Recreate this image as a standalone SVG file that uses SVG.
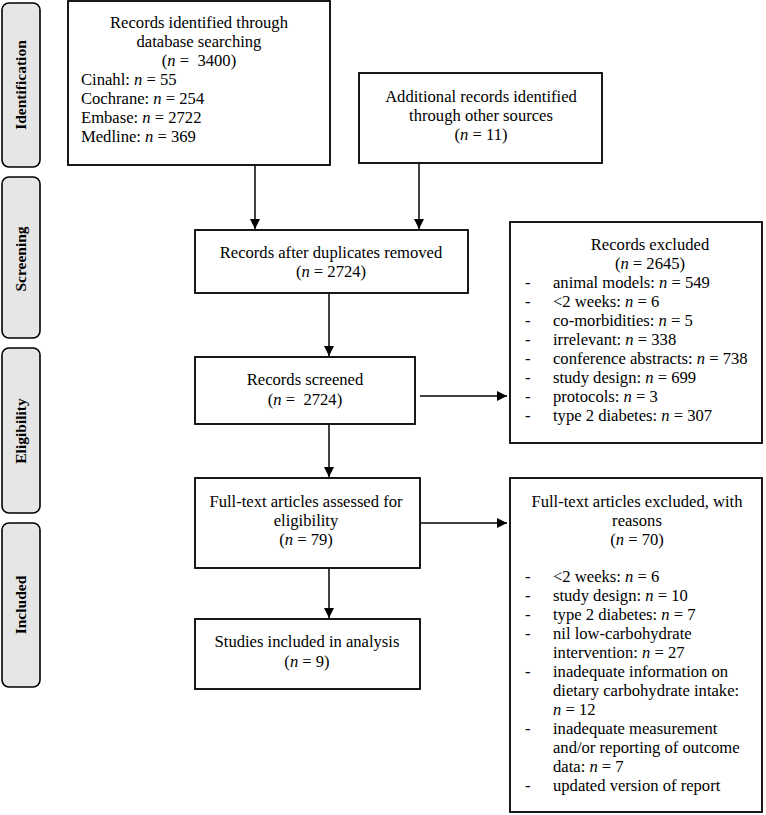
<svg xmlns="http://www.w3.org/2000/svg" width="766" height="815" viewBox="0 0 766 815">
<style>
  .box { fill: #ffffff; stroke: #000000; stroke-width: 1.8; }
  .side { fill: #e6e6e6; stroke: #000000; stroke-width: 1.6; }
  .t { font-family: "Liberation Serif", "Times New Roman", serif; font-size: 16.6px; fill: #000000; }
  .c { text-anchor: middle; }
  .lab { font-family: "Liberation Serif", "Times New Roman", serif; font-size: 15.5px; font-weight: bold; fill: #000000; text-anchor: middle; }
  .i { font-style: italic; }
  .conn { stroke: #000000; stroke-width: 1.5; fill: none; marker-end: url(#ah); }
</style>
<defs>
  <marker id="ah" viewBox="0 0 10 10" refX="10" refY="5" markerWidth="10" markerHeight="10" markerUnits="userSpaceOnUse" orient="auto">
    <path d="M0,0 L10,5 L0,10 Z" fill="#000000"/>
  </marker>
</defs>
<rect width="766" height="815" fill="#ffffff"/>

<g id="stage-identification">
  <rect class="side" x="2" y="3" width="38" height="164" rx="7"/>
  <text class="lab" transform="translate(26,85) rotate(-90)">Identification</text>
</g>
<g id="stage-screening">
  <rect class="side" x="2" y="177" width="38" height="161" rx="7"/>
  <text class="lab" transform="translate(26,259) rotate(-90)">Screening</text>
</g>
<g id="stage-eligibility">
  <rect class="side" x="2" y="348" width="38" height="165" rx="7"/>
  <text class="lab" transform="translate(26,431) rotate(-90)">Eligibility</text>
</g>
<g id="stage-included">
  <rect class="side" x="2" y="523" width="38" height="164" rx="7"/>
  <text class="lab" transform="translate(26,605) rotate(-90)">Included</text>
</g>

<g id="node-database">
  <rect class="box" x="68" y="1" width="262" height="164"/>
  <text class="t c" x="199" y="28">Records identified through</text>
  <text class="t c" x="199" y="47">database searching</text>
  <text class="t c" x="199" y="66">(<tspan class="i">n</tspan> =&#160; 3400)</text>
  <text class="t" x="81" y="85">Cinahl: <tspan class="i">n</tspan> = 55</text>
  <text class="t" x="81" y="104">Cochrane: <tspan class="i">n</tspan> = 254</text>
  <text class="t" x="81" y="123">Embase: <tspan class="i">n</tspan> = 2722</text>
  <text class="t" x="81" y="142">Medline: <tspan class="i">n</tspan> = 369</text>
</g>

<g id="node-other">
  <rect class="box" x="359" y="73" width="243" height="90"/>
  <text class="t c" x="481" y="102">Additional records identified</text>
  <text class="t c" x="481" y="121">through other sources</text>
  <text class="t c" x="481" y="140">(<tspan class="i">n</tspan> = 11)</text>
</g>

<g id="node-duplicates">
  <rect class="box" x="195" y="230" width="273" height="63"/>
  <text class="t c" x="331" y="258">Records after duplicates removed</text>
  <text class="t c" x="331" y="277">(<tspan class="i">n</tspan> = 2724)</text>
</g>

<g id="node-screened">
  <rect class="box" x="195" y="357" width="220" height="67"/>
  <text class="t c" x="305" y="385">Records screened</text>
  <text class="t c" x="305" y="405">(<tspan class="i">n</tspan> =&#160; 2724)</text>
</g>

<g id="node-records-excluded">
  <rect class="box" x="510" y="222" width="252" height="221"/>
  <text class="t c" x="650" y="250">Records excluded</text>
  <text class="t c" x="650" y="269">(<tspan class="i">n</tspan> = 2645)</text>
  <g class="t">
    <text x="525" y="288">-</text><text x="553" y="288">animal models: <tspan class="i">n</tspan> = 549</text>
    <text x="525" y="307">-</text><text x="553" y="307">&lt;2 weeks: <tspan class="i">n</tspan> = 6</text>
    <text x="525" y="326">-</text><text x="553" y="326">co-morbidities: <tspan class="i">n</tspan> = 5</text>
    <text x="525" y="345">-</text><text x="553" y="345">irrelevant: <tspan class="i">n</tspan> = 338</text>
    <text x="525" y="364">-</text><text x="553" y="364">conference abstracts: <tspan class="i">n</tspan> = 738</text>
    <text x="525" y="383">-</text><text x="553" y="383">study design: <tspan class="i">n</tspan> = 699</text>
    <text x="525" y="402">-</text><text x="553" y="402">protocols: <tspan class="i">n</tspan> = 3</text>
    <text x="525" y="421">-</text><text x="553" y="421">type 2 diabetes: <tspan class="i">n</tspan> = 307</text>
  </g>
</g>

<g id="node-fulltext">
  <rect class="box" x="195" y="478" width="225" height="90"/>
  <text class="t c" x="306" y="507">Full-text articles assessed for</text>
  <text class="t c" x="306" y="526">eligibility</text>
  <text class="t c" x="306" y="545">(<tspan class="i">n</tspan> = 79)</text>
</g>

<g id="node-fulltext-excluded">
  <rect class="box" x="510" y="478" width="252" height="334"/>
  <text class="t c" x="637" y="507">Full-text articles excluded, with</text>
  <text class="t c" x="637" y="526">reasons</text>
  <text class="t c" x="637" y="545">(<tspan class="i">n</tspan> = 70)</text>
  <g class="t">
    <text x="525" y="582">-</text><text x="553" y="582">&lt;2 weeks: <tspan class="i">n</tspan> = 6</text>
    <text x="525" y="601">-</text><text x="553" y="601">study design: <tspan class="i">n</tspan> = 10</text>
    <text x="525" y="620">-</text><text x="553" y="620">type 2 diabetes: <tspan class="i">n</tspan> = 7</text>
    <text x="525" y="639">-</text><text x="553" y="639">nil low-carbohydrate</text>
    <text x="553" y="658">intervention: <tspan class="i">n</tspan> = 27</text>
    <text x="525" y="677">-</text><text x="553" y="677">inadequate information on</text>
    <text x="553" y="696">dietary carbohydrate intake:</text>
    <text x="553" y="715"><tspan class="i">n</tspan> = 12</text>
    <text x="525" y="734">-</text><text x="553" y="734">inadequate measurement</text>
    <text x="553" y="753">and/or reporting of outcome</text>
    <text x="553" y="772">data: <tspan class="i">n</tspan> = 7</text>
    <text x="525" y="791">-</text><text x="553" y="791">updated version of report</text>
  </g>
</g>

<g id="node-included">
  <rect class="box" x="195" y="619" width="225" height="70"/>
  <text class="t c" x="307" y="647">Studies included in analysis</text>
  <text class="t c" x="307" y="667">(<tspan class="i">n</tspan> = 9)</text>
</g>

<g id="connectors">
  <line class="conn" x1="255" y1="165" x2="255" y2="229"/>
  <line class="conn" x1="419" y1="163" x2="419" y2="229"/>
  <line class="conn" x1="329" y1="293" x2="329" y2="356"/>
  <line class="conn" x1="420" y1="396" x2="507" y2="396"/>
  <line class="conn" x1="329" y1="424" x2="329" y2="477"/>
  <line class="conn" x1="420" y1="523" x2="507" y2="523"/>
  <line class="conn" x1="329" y1="568" x2="329" y2="618"/>
</g>
</svg>
